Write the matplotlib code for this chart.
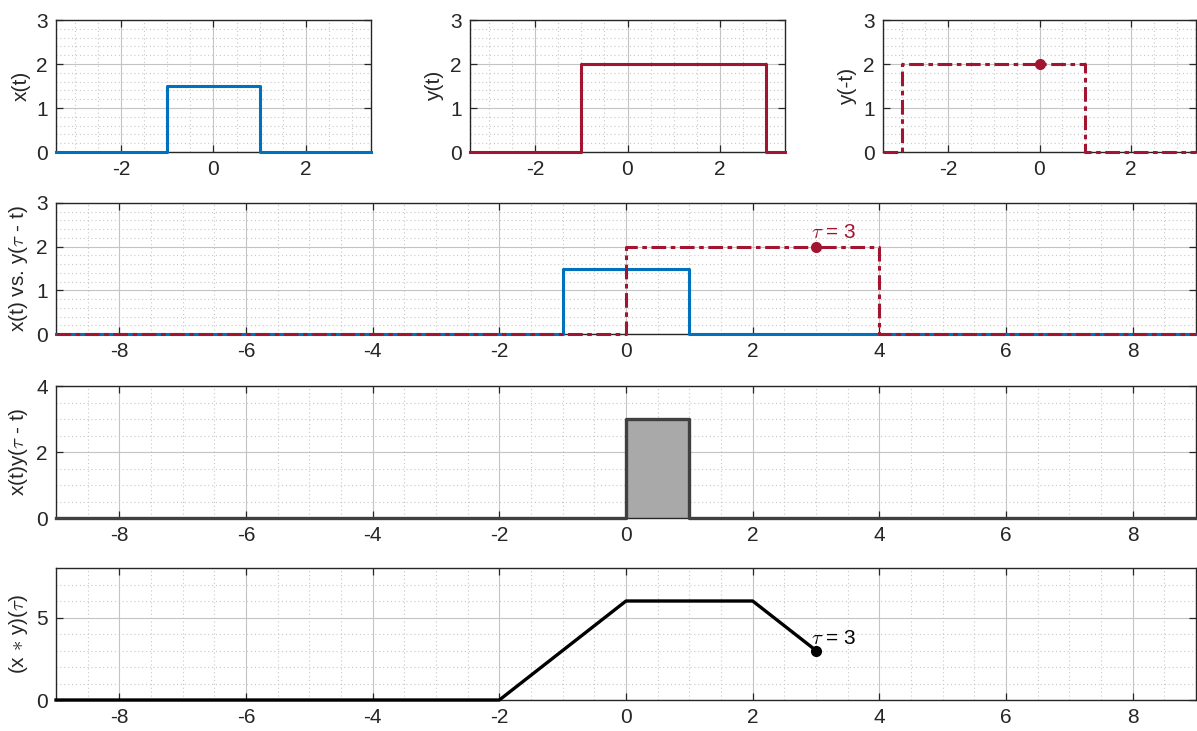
import numpy as np
import matplotlib.pyplot as plt
from matplotlib.ticker import MultipleLocator

plt.rcParams['font.family'] = ['Liberation Sans', 'DejaVu Sans']
plt.rcParams['mathtext.fontset'] = 'cm'
plt.rcParams['axes.unicode_minus'] = False

# signals, as breakpoints of piecewise-constant / piecewise-linear curves
tau = 3
t_x = [-9, -1, -1, 1, 1, 9]
v_x = [0, 0, 1.5, 1.5, 0, 0]
t_y = [-9, -1, -1, 3, 3, 9]
v_y = [0, 0, 2, 2, 0, 0]
t_yrev = [-9, -3, -3, 1, 1, 9]
v_yrev = [0, 0, 2, 2, 0, 0]
t_yshift = [-9, 0, 0, 4, 4, 9]
v_yshift = [0, 0, 2, 2, 0, 0]
t_prod = [-9, 0, 0, 1, 1, 9]
v_prod = [0, 0, 3, 3, 0, 0]
t_conv = [-9, -2, 0, 2, 3]
v_conv = [0, 0, 6, 6, 3]

blue = '#0072BD'
red = '#A2142F'
axcol = '#262626'
dashdot = (0, (4.8, 1.5, 1.5, 1.5))
fs = 15

W, H = 1197, 731
fig = plt.figure(figsize=(W / 100, H / 100), dpi=100)


def make_ax(left, top, right, bottom):
    ax = fig.add_axes([left / W, 1 - bottom / H, (right - left) / W, (bottom - top) / H])
    return ax


def clip_to_x(ax, t, v, **kw):
    # lines are allowed to sit on the spine, so clip only in x by hand
    lo, hi = ax.get_xlim()
    t = np.clip(t, lo, hi)
    return ax.plot(t, v, clip_on=False, zorder=3, **kw)


def style(ax, xlim, ylim, xmaj, ymaj, xmin, ymin, ylabel):
    ax.set_xlim(xlim)
    ax.set_ylim(ylim)
    ax.xaxis.set_major_locator(MultipleLocator(xmaj))
    ax.yaxis.set_major_locator(MultipleLocator(ymaj))
    ax.xaxis.set_minor_locator(MultipleLocator(xmin))
    ax.yaxis.set_minor_locator(MultipleLocator(ymin))
    ax.set_axisbelow(True)
    ax.grid(which='major', color='#c4c4c4', lw=0.8, ls='-')
    ax.grid(which='minor', color='#c8c8c8', lw=0.8, ls=(0, (1, 2.5)))
    ax.tick_params(which='major', direction='in', length=5, width=0.9,
                   top=True, right=True, labelsize=fs, colors=axcol, pad=6)
    ax.tick_params(which='minor', length=0)
    for s in ax.spines.values():
        s.set_color(axcol)
        s.set_linewidth(1.0)
    ax.set_ylabel(ylabel, fontsize=fs, color=axcol, labelpad=4)


# top row: x(t), y(t), y(-t)
lims = (-3.42, 3.42)
ax1 = make_ax(56, 20, 371, 152)
style(ax1, lims, (0, 3), 2, 1, 0.5, 0.2, 'x(t)')
clip_to_x(ax1, t_x, v_x, color=blue, lw=2.2)

ax2 = make_ax(470, 20, 785, 152)
style(ax2, lims, (0, 3), 2, 1, 0.5, 0.2, 'y(t)')
clip_to_x(ax2, t_y, v_y, color=red, lw=2.2)

ax3 = make_ax(883, 20, 1196, 152)
style(ax3, lims, (0, 3), 2, 1, 0.5, 0.2, 'y(-t)')
clip_to_x(ax3, t_yrev, v_yrev, color=red, lw=2.2, ls=dashdot)
ax3.plot([0], [2], 'o', color=red, ms=7, zorder=4)

# x(t) against the flipped, shifted y
ax4 = make_ax(56, 203, 1196, 334)
style(ax4, (-9, 9), (0, 3), 2, 1, 0.5, 0.2, r'x(t) vs. y($\tau$ - t)')
clip_to_x(ax4, t_x, v_x, color=blue, lw=2.2)
clip_to_x(ax4, t_yshift, v_yshift, color=red, lw=2.2, ls=dashdot)
ax4.plot([tau], [2], 'o', color=red, ms=7, zorder=4)
ax4.text(tau - 0.08, 2.33, r'$\tau$ = %d' % tau, color=red, fontsize=fs,
         ha='left', va='center')

# product
ax5 = make_ax(56, 386, 1196, 518)
style(ax5, (-9, 9), (0, 4), 2, 2, 0.5, 0.5, r'x(t)y($\tau$ - t)')
ax5.fill_between(t_prod, v_prod, color='#a9a9a9', lw=0)
clip_to_x(ax5, t_prod, v_prod, color='#404040', lw=2.4)

# convolution so far
ax6 = make_ax(56, 568, 1196, 700)
style(ax6, (-9, 9), (0, 8), 2, 5, 0.5, 1, r'(x $\ast$ y)($\tau$)')
clip_to_x(ax6, t_conv, v_conv, color='black', lw=2.4)
ax6.plot([tau], [v_conv[-1]], 'o', color='black', ms=7, zorder=4)
ax6.text(tau - 0.08, v_conv[-1] + 0.75, r'$\tau$ = %d' % tau, color='black',
         fontsize=fs, ha='left', va='center')

fig.savefig('out.png', dpi=100)
